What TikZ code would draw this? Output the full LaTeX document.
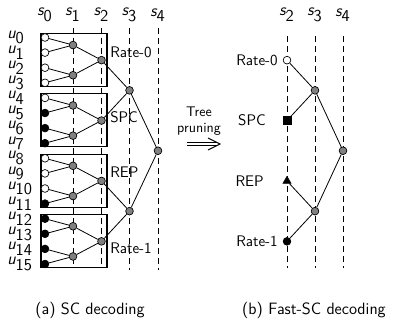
\documentclass[tikz,border=0pt]{standalone}
\usetikzlibrary{arrows.meta,shapes.geometric}
\begin{document}
\begin{tikzpicture}[x=0.75pt,y=-0.75pt,
  font=\sffamily\fontsize{11.5}{13}\selectfont,
  guide/.style={line width=0.6pt, dash pattern=on 4.5pt off 3pt},
  blk/.style={draw, line width=0.8pt},
  lnk/.style={line width=0.6pt},
  arw/.style={line width=0.75pt, line join=miter},
  vtx/.style={circle, draw, inner sep=0pt, minimum size=5.8pt, line width=0.5pt},
  wv/.style={vtx, fill=white},
  bv/.style={vtx, fill=black},
  gv/.style={vtx, fill=gray},
  sq/.style={rectangle, draw, fill=black, inner sep=0pt, minimum size=6pt},
  tri/.style={regular polygon, regular polygon sides=3, draw, fill=black, inner sep=0pt, minimum size=7pt},
  idx/.style={font=\sffamily\fontsize{12.5}{13}\selectfont},
  captext/.style={font=\sffamily\fontsize{12.3}{14}\selectfont}]
\useasboundingbox (0,0) rectangle (393,321);

% ---------- (a) SC decoding ----------
\foreach \n/\x in {0/45,1/73,2/101.5,3/129.5,4/158}
  \node[idx] (ls\n) at (\x,15) {$\textit{s}_{\textsf{\n}}$};
\foreach \x in {73,101.5}
  \draw[guide] (\x,28) -- (\x,267);
\foreach \x in {129.5,158}
  \draw[guide] (\x,28) -- (\x,270);

\foreach \a/\b in {0/3,4/7,8/11,12/15}
  \draw[blk] (41,{37.5+15.1*\a-4}) rectangle (107,{37.5+15.1*\b+3.7});

\foreach \i/\f in {0/wv,1/wv,2/wv,3/wv,4/wv,5/bv,6/bv,7/bv,8/wv,9/wv,10/wv,11/bv,12/bv,13/bv,14/bv,15/bv}{
  \node[\f] (c\i) at (45,{37.5+15.1*\i}) {};
  \node[idx, anchor=west, inner sep=0pt] (lu\i) at (7,{37.5+15.1*\i}) {$\textit{u}_{\textsf{\i}}$};
}
\foreach \j in {0,...,7}
  \node[gv] (a\j) at (73,{37.5+15.1*(2*\j+0.5)}) {};
\foreach \k in {0,...,3}
  \node[gv] (b\k) at (101.5,{37.5+15.1*(4*\k+1.5)}) {};
\foreach \m in {0,1}
  \node[gv] (d\m) at (129.5,{37.5+15.1*(8*\m+3.5)}) {};
\node[gv] (e) at (158,{37.5+15.1*7.5}) {};

\foreach \j in {0,...,7}{
  \pgfmathtruncatemacro\p{2*\j}
  \pgfmathtruncatemacro\q{2*\j+1}
  \draw[lnk] (c\p) -- (a\j);
  \draw[lnk] (c\q) -- (a\j);
}
\foreach \k in {0,...,3}{
  \pgfmathtruncatemacro\p{2*\k}
  \pgfmathtruncatemacro\q{2*\k+1}
  \draw[lnk] (a\p) -- (b\k);
  \draw[lnk] (a\q) -- (b\k);
}
\draw[lnk] (b0) -- (d0);
\draw[lnk] (b1) -- (d0);
\draw[lnk] (b2) -- (d1);
\draw[lnk] (b3) -- (d1);
\draw[lnk] (d0) -- (e);
\draw[lnk] (d1) -- (e);

\node[anchor=west, inner sep=0pt] (tr0) at (110,52) {Rate-0};
\node[anchor=west, inner sep=0pt] (tspc) at (110,117) {SPC};
\node[anchor=west, inner sep=0pt] (trep) at (110,172) {REP};
\node[anchor=west, inner sep=0pt] (tr1) at (110,248) {Rate-1};

\node[captext] (capa) at (90,310) {(a) SC decoding};

% ---------- arrow ----------
\node[align=center, inner sep=0pt, font=\sffamily\fontsize{10.5}{11.5}\selectfont] (tp) at (199,121) {Tree\\pruning};
\coordinate (ar0) at (187,142.5);
\coordinate (ar1) at (217,142.5);
\coordinate (ar2) at (187,145.5);
\coordinate (ar3) at (217,145.5);
\coordinate (ah0) at (208,138);
\coordinate (ah1) at (220,144);
\coordinate (ah2) at (208,150);
\draw[arw] (ar0) -- (ar1);
\draw[arw] (ar2) -- (ar3);
\draw[arw] (ah0) -- (ah1) -- (ah2);

% ---------- (b) Fast-SC decoding ----------
\foreach \n/\x in {2/287,3/315,4/343}
  \node[idx] (rs\n) at (\x,15) {$\textit{s}_{\textsf{\n}}$};
\foreach \x in {287,315,343}
  \draw[guide] (\x,36) -- (\x,268);

\node[wv] (r0) at (287,{37.5+15.1*1.5}) {};
\node[gv] (rd0) at (315,{37.5+15.1*3.5}) {};
\node[sq] (rspc) at (287,{37.5+15.1*5.5}) {};
\node[gv] (re) at (343,{37.5+15.1*7.5}) {};
\node[tri] (rrep) at (287,{37.5+15.1*9.5}) {};
\node[gv] (rd1) at (315,{37.5+15.1*11.5}) {};
\node[bv] (r1) at (287,{37.5+15.1*13.5}) {};

\draw[lnk] (r0) -- (rd0);
\draw[lnk] (rspc) -- (rd0);
\draw[lnk] (rd0) -- (re);
\draw[lnk] (rd1) -- (re);
\draw[lnk] (rrep) -- (rd1);
\draw[lnk] (r1) -- (rd1);

\node[anchor=east, inner sep=0pt] (qr0) at (278,{37.5+15.1*1.5}) {Rate-0};
\node[anchor=east, inner sep=0pt] (qspc) at (266,{37.5+15.1*5.5}) {SPC};
\node[anchor=east, inner sep=0pt] (qrep) at (264,{37.5+15.1*9.5}) {REP};
\node[anchor=east, inner sep=0pt] (qr1) at (278,{37.5+15.1*13.5}) {Rate-1};

\node[captext] (capb) at (314,310) {(b) Fast-SC decoding};
\end{tikzpicture}
\end{document}
